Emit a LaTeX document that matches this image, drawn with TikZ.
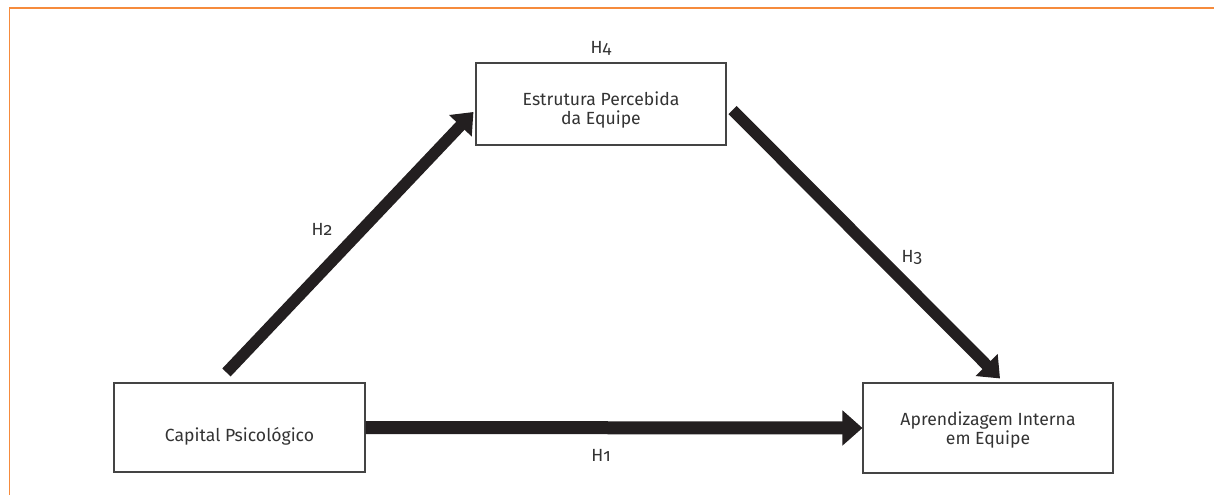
\documentclass[tikz,border=0pt]{standalone}
\usepackage{fontspec}
\setmainfont{Fira Sans}[Numbers=OldStyle]
\usetikzlibrary{arrows.meta,calc}
\definecolor{frameorange}{HTML}{F68B3C}
\definecolor{arrowblack}{HTML}{231F20}
\definecolor{boxgray}{HTML}{444444}
\definecolor{txtgray}{HTML}{333333}
\tikzset{
  box/.style={draw=boxgray, line width=1.1pt, rectangle, inner sep=0pt},
  txt/.style={text=txtgray, font=\fontsize{17.6}{19.5}\selectfont, align=center, inner sep=0pt},
  hyp/.style={text=txtgray, font=\fontsize{17.6}{19.5}\selectfont, inner sep=0pt},
  bigarrow/.style={draw=arrowblack, line width=13pt, -{Triangle[length=20pt,width=34pt]}},
  diagarrow/.style={draw=arrowblack, line width=11.5pt, -{Triangle[length=19pt,width=30pt]}},
}
\begin{document}
\begin{tikzpicture}[x=1pt,y=-1pt]
\useasboundingbox (0,0) rectangle (1214,495);
% orange frame
\draw[frameorange, line width=1.6pt] (9.5,495) -- (9.5,8) -- (1214,8);
% boxes
\node[box, minimum width=251pt, minimum height=89pt] (cap) at (239.5,427.5) {};
\node[box, minimum width=250pt, minimum height=82pt] (est) at (601,104) {};
\node[box, minimum width=250pt, minimum height=90pt] (apr) at (988,428) {};
% box texts
\node[txt] (captxt) at ($(cap.center)+(0,9)$) {Capital Psicológico};
\node[txt] (esttxt) at ($(est.center)+(0,6)$) {Estrutura Percebida\\da Equipe};
\node[txt] (aprtxt) at ($(apr.center)+(0,2)$) {Aprendizagem Interna\\em Equipe};
% arrow end points
\coordinate (h2s) at ($(cap.north west)+(113,-10)$);
\coordinate (h2e) at ($(est.west)+(-2,8)$);
\coordinate (h3s) at ($(est.east)+(6,6)$);
\coordinate (h3e) at ($(apr.north)+(12,-4)$);
% arrows
\draw[bigarrow] (cap.east) -- (apr.west);
\draw[diagarrow] (h2s) -- (h2e);
\draw[diagarrow] (h3s) -- (h3e);
% labels
\node[hyp] (h1) at (601,455) {H1};
\node[hyp] (h2) at (322,229) {H2};
\node[hyp] (h3) at (912,257) {H3};
\node[hyp] (h4) at (601,48) {H4};
\end{tikzpicture}
\end{document}
